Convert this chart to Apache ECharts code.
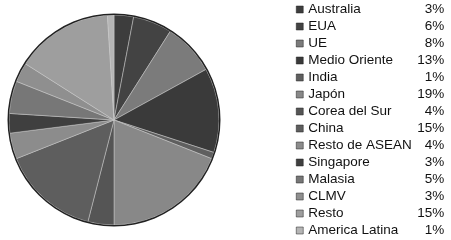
<!DOCTYPE html>
<html><head><meta charset="utf-8">
<script src="https://cdn.jsdelivr.net/npm/echarts@6/dist/echarts.min.js"></script>
<style>html,body{margin:0;padding:0;background:#fff}#c{width:451px;height:240px}</style>
</head><body><div id="c"></div>
<script>
const categories = ["Australia","EUA","UE","Medio Oriente","India","Japón","Corea del Sur","China","Resto de ASEAN","Singapore","Malasia","CLMV","Resto","America Latina"];
const values = [3,6,8,13,1,19,4,15,4,3,5,3,15,1];
const colors = ["#3d3d3d","#434343","#7b7b7b","#3a3a3a","#5f5f5f","#888888","#555555","#5e5e5e","#8c8c8c","#3f3f3f","#777777","#8f8f8f","#9e9e9e","#b5b5b5"];
const pctMap = {};
categories.forEach((c,i)=>pctMap[c]=values[i]+'%');
const chart = echarts.init(document.getElementById('c'));
chart.setOption({
  animation:false,
  color: colors,
  legend:{
    orient:'vertical', left:296, top:1, padding:0, itemWidth:7, itemHeight:7, itemGap:0,
    icon:'rect',
    itemStyle:{borderColor:'#222',borderWidth:0.5},
    data: categories,
    formatter: n => '{n|'+n+'}{p|'+pctMap[n]+'}',
    textStyle:{
      fontFamily:'Liberation Sans', fontSize:13.5, color:'#111', lineHeight:17,
      rich:{
        n:{width:104, fontFamily:'Liberation Sans', fontSize:13.5, color:'#111', lineHeight:17},
        p:{width:32, align:'right', fontFamily:'Liberation Sans', fontSize:13.5, color:'#111', lineHeight:17}
      }
    }
  },
  series:[{
    type:'pie', center:[114,120], radius:[0,105], startAngle:90, clockwise:true,
    label:{show:false}, labelLine:{show:false},
    itemStyle:{borderColor:'#c8c8c8', borderWidth:0.5},
    emphasis:{disabled:true},
    data: categories.map((c,i)=>({name:c, value:values[i]}))
  },{
    type:'pie', center:[114,120], radius:[105,106.5], silent:true,
    label:{show:false}, labelLine:{show:false},
    itemStyle:{color:'#222'},
    data:[{value:1,name:'_edge'}]
  }]
});
</script></body></html>
